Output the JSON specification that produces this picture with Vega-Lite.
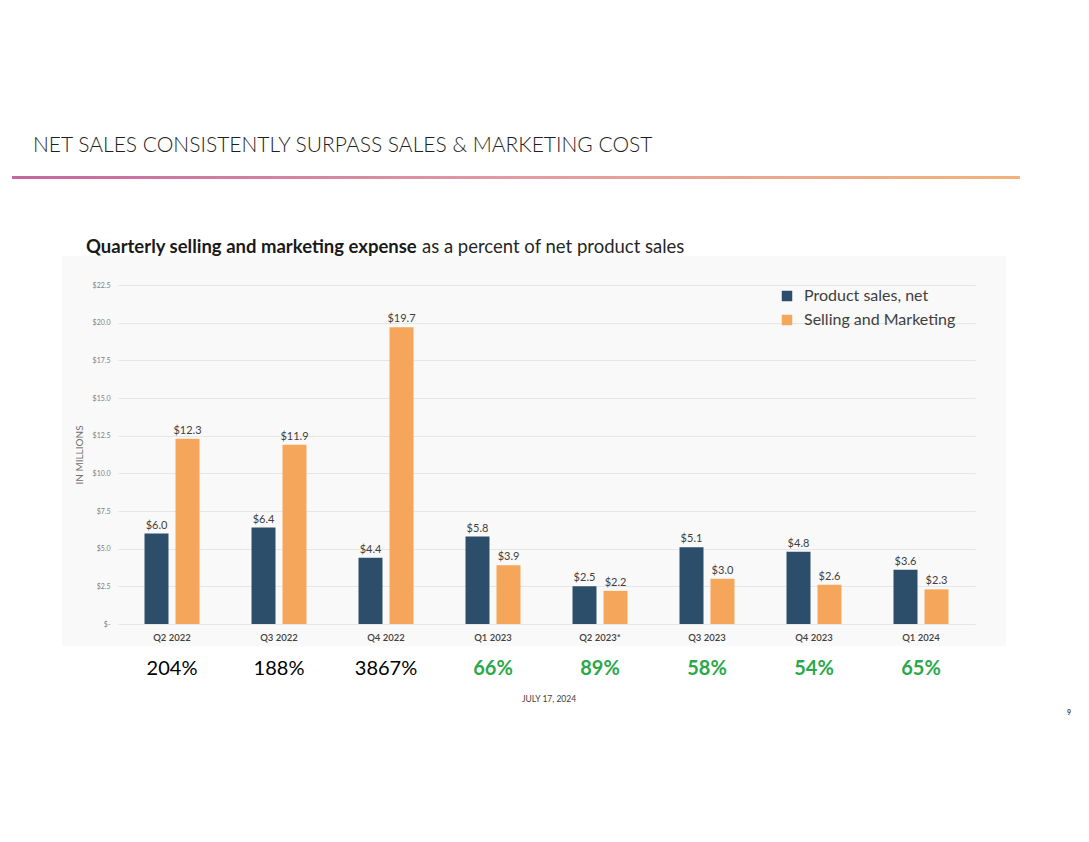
{
  "$schema": "https://vega.github.io/schema/vega-lite/v6.json",
  "description": "Quarterly net product sales vs selling and marketing expense, with S&M as a percent of net sales.",
  "background": "#ffffff",
  "padding": {"left": 12, "top": 135, "right": 0, "bottom": 0},
  "datasets": {
    "sales": [
      {"quarter": "Q2 2022", "series": "Product sales, net", "value": 6.0},
      {"quarter": "Q2 2022", "series": "Selling and Marketing", "value": 12.3},
      {"quarter": "Q3 2022", "series": "Product sales, net", "value": 6.4},
      {"quarter": "Q3 2022", "series": "Selling and Marketing", "value": 11.9},
      {"quarter": "Q4 2022", "series": "Product sales, net", "value": 4.4},
      {"quarter": "Q4 2022", "series": "Selling and Marketing", "value": 19.7},
      {"quarter": "Q1 2023", "series": "Product sales, net", "value": 5.8},
      {"quarter": "Q1 2023", "series": "Selling and Marketing", "value": 3.9},
      {"quarter": "Q2 2023*", "series": "Product sales, net", "value": 2.5},
      {"quarter": "Q2 2023*", "series": "Selling and Marketing", "value": 2.2},
      {"quarter": "Q3 2023", "series": "Product sales, net", "value": 5.1},
      {"quarter": "Q3 2023", "series": "Selling and Marketing", "value": 3.0},
      {"quarter": "Q4 2023", "series": "Product sales, net", "value": 4.8},
      {"quarter": "Q4 2023", "series": "Selling and Marketing", "value": 2.6},
      {"quarter": "Q1 2024", "series": "Product sales, net", "value": 3.6},
      {"quarter": "Q1 2024", "series": "Selling and Marketing", "value": 2.3}
    ],
    "ratios": [
      {"quarter": "Q2 2022", "ratio": 2.04},
      {"quarter": "Q3 2022", "ratio": 1.88},
      {"quarter": "Q4 2022", "ratio": 38.67},
      {"quarter": "Q1 2023", "ratio": 0.66},
      {"quarter": "Q2 2023*", "ratio": 0.89},
      {"quarter": "Q3 2023", "ratio": 0.58},
      {"quarter": "Q4 2023", "ratio": 0.54},
      {"quarter": "Q1 2024", "ratio": 0.65}
    ]
  },
  "bounds": "flush",
  "spacing": 77,
  "vconcat": [
    {
      "width": 1008,
      "height": 3,
      "data": {"values": [{"element": "divider"}]},
      "title": {
        "text": "NET SALES CONSISTENTLY SURPASS SALES & MARKETING COST",
        "anchor": "start", "frame": "group", "dx": 21, "offset": 20,
        "fontSize": 21, "fontWeight": 300, "color": "#1f1f1f"
      },
      "mark": {
        "type": "rect",
        "fill": {
          "gradient": "linear",
          "stops": [
            {"offset": 0, "color": "#c4669f"},
            {"offset": 0.5, "color": "#e39aa3"},
            {"offset": 1, "color": "#f2b27a"}
          ]
        }
      },
      "encoding": {
        "x": {"datum": 0, "type": "quantitative", "scale": {"domain": [0, 1], "nice": false}, "axis": null},
        "x2": {"datum": 1}
      }
    },
    {
      "bounds": "flush",
      "spacing": 0,
      "hconcat": [
        {
          "width": 50,
          "height": 10,
          "data": {"values": []},
          "mark": "point",
          "title": {
            "text": "Quarterly selling and marketing expense",
            "anchor": "start", "frame": "group", "dx": 74, "offset": 0,
            "fontSize": 18.5, "fontWeight": "bold", "color": "#1a1a1a"
          }
        },
        {
          "bounds": "flush",
          "spacing": 5,
          "resolve": {"scale": {"x": "shared"}},
          "vconcat": [
            {
              "width": 944,
              "height": 390,
              "data": {"name": "sales"},
              "view": {"fill": "#f9f9f9", "stroke": null},
              "title": {
                "text": "as a percent of net product sales",
                "anchor": "start", "frame": "group", "dx": 360, "offset": 0,
                "fontSize": 18.5, "fontWeight": "normal", "color": "#262626"
              },
              "encoding": {
                "x": {
                  "field": "quarter", "type": "nominal",
                  "scale": {
                    "domain": ["Q2 2022", "Q3 2022", "Q4 2022", "Q1 2023", "Q2 2023*", "Q3 2023", "Q4 2023", "Q1 2024"],
                    "range": [56, 913], "paddingInner": 0.486, "paddingOuter": 0.2477, "align": 0.5
                  },
                  "axis": {
                    "title": null, "orient": "bottom", "offset": -22, "domain": false, "ticks": false, "grid": false,
                    "labelAngle": 0, "labelPadding": 8, "labelFontSize": 9.5, "labelFontWeight": 600, "labelColor": "#404040"
                  }
                },
                "xOffset": {
                  "field": "series", "type": "nominal",
                  "scale": {"domain": ["Product sales, net", "Selling and Marketing"], "paddingInner": 0.226, "paddingOuter": 0}
                },
                "y": {
                  "field": "value", "type": "quantitative",
                  "scale": {"domain": [0, 22.5], "range": [368, 29], "nice": false},
                  "axis": {
                    "values": [0, 2.5, 5, 7.5, 10, 12.5, 15, 17.5, 20, 22.5],
                    "labelExpr": "datum.value === 0 ? '$-' : '$' + format(datum.value, '.1f')",
                    "title": "IN MILLIONS", "titleFontSize": 10, "titleFontWeight": "normal", "titleColor": "#6f6f6f", "titlePadding": 8,
                    "labelFontSize": 7, "labelColor": "#808080", "labelPadding": 2,
                    "offset": -50, "ticks": false, "domain": false,
                    "gridColor": "#e6e6e6", "gridWidth": 1
                  }
                }
              },
              "layer": [
                {
                  "mark": {"type": "bar"},
                  "encoding": {
                    "color": {
                      "field": "series", "type": "nominal",
                      "scale": {"domain": ["Product sales, net", "Selling and Marketing"], "range": ["#2c4e6b", "#f6a65a"]},
                      "legend": {
                        "orient": "none", "legendX": 767, "legendY": 112, "title": null,
                        "symbolType": "square", "symbolSize": 110, "symbolStrokeWidth": 0,
                        "labelFontSize": 16, "labelColor": "#404040", "labelOffset": 9, "rowPadding": 8
                      }
                    }
                  }
                },
                {
                  "mark": {"type": "text", "baseline": "bottom", "dy": -3, "fontSize": 11, "color": "#404040"},
                  "encoding": {
                    "text": {"field": "value", "type": "quantitative", "format": "$.1f"}
                  }
                }
              ]
            },
            {
              "width": 944,
              "height": 36,
              "data": {"name": "ratios"},
              "title": {
                "text": "JULY 17, 2024",
                "orient": "bottom", "anchor": "middle", "frame": "group", "dx": 15, "offset": 8,
                "fontSize": 8.5, "fontWeight": "normal", "color": "#404040"
              },
              "encoding": {
                "x": {
                  "field": "quarter", "type": "nominal",
                  "scale": {"domain": ["Q2 2022", "Q3 2022", "Q4 2022", "Q1 2023", "Q2 2023*", "Q3 2023", "Q4 2023", "Q1 2024"]},
                  "axis": null
                },
                "text": {"field": "ratio", "type": "quantitative", "format": ".0%"}
              },
              "layer": [
                {
                  "transform": [{"filter": "datum.ratio >= 1"}],
                  "mark": {"type": "text", "fontSize": 20, "color": "#000000"}
                },
                {
                  "transform": [{"filter": "datum.ratio < 1"}],
                  "mark": {"type": "text", "fontSize": 20, "fontWeight": "bold", "color": "#2aa84a"}
                }
              ]
            }
          ]
        },
        {
          "width": 60,
          "height": 450,
          "data": {"values": []},
          "mark": "point",
          "title": {
            "text": "9",
            "orient": "bottom", "anchor": "start", "frame": "group", "dx": 1005, "offset": 3,
            "fontSize": 7, "fontWeight": "bold", "color": "#404040"
          }
        }
      ]
    }
  ],
  "config": {
    "font": "Lato",
    "view": {"stroke": null}
  }
}
